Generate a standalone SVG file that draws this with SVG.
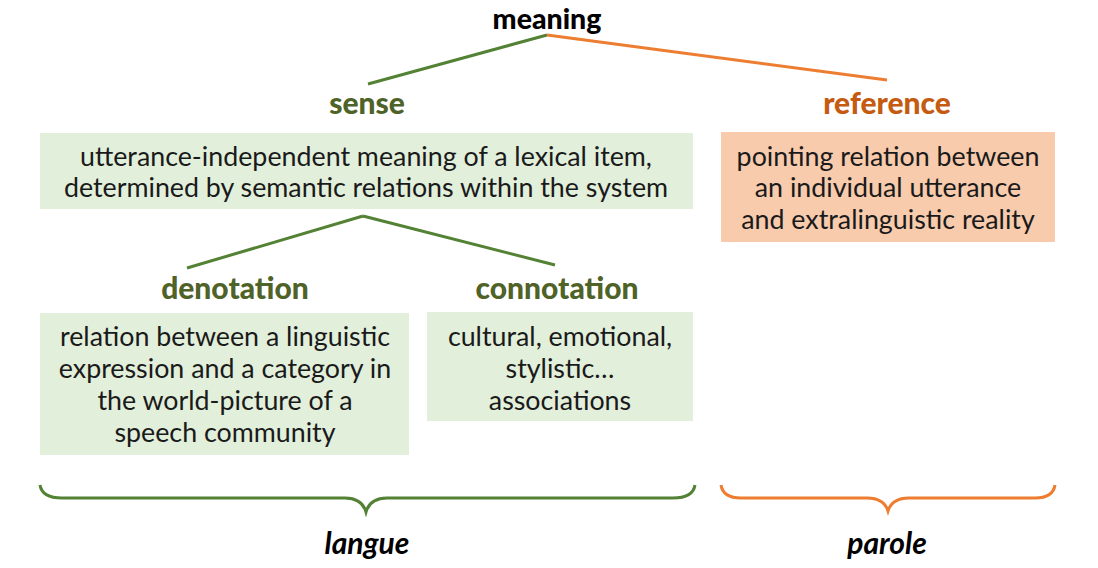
<svg xmlns="http://www.w3.org/2000/svg" width="1098" height="568" viewBox="0 0 1098 568">
<style>
.h{font-family:Lato,"Liberation Sans",sans-serif;font-weight:900;font-size:30px;text-anchor:middle}
.g{fill:#4f6228}
.o{fill:#c55a11}
.t{font-family:Lato,"Liberation Sans",sans-serif;font-size:26.8px;fill:#1a1a1a;text-anchor:middle}
.gl{stroke:#548235;stroke-width:3;fill:none}
.ol{stroke:#ed7d31;stroke-width:3;fill:none}
.i{font-family:Lato,"Liberation Sans",sans-serif;font-weight:bold;font-style:italic;font-size:30px;fill:#000;text-anchor:middle}
</style>
<rect width="1098" height="568" fill="#fff"/>
<g id="connectors">
<line class="gl" x1="547" y1="35" x2="368" y2="84"/>
<line class="ol" x1="547" y1="35" x2="887" y2="80"/>
<line class="gl" x1="363" y1="216" x2="187" y2="268"/>
<line class="gl" x1="363" y1="216" x2="555" y2="265"/>
</g>
<g id="meaning"><text class="h" x="547" y="28.5" fill="#000" style="font-size:28.5px">meaning</text></g>
<g id="sense">
<text class="h g" x="367" y="114">sense</text>
<rect x="40" y="133" width="653" height="76" fill="#e2efda"/>
<text class="t" x="366" y="166">utterance-independent meaning of a lexical item,</text>
<text class="t" x="366" y="197">determined by semantic relations within the system</text>
</g>
<g id="reference">
<text class="h o" x="887" y="114">reference</text>
<rect x="721" y="132" width="334" height="110" fill="#f8cbad"/>
<text class="t" x="888" y="166">pointing relation between</text>
<text class="t" x="888" y="197">an individual utterance</text>
<text class="t" x="888" y="229">and extralinguistic reality</text>
</g>
<g id="denotation">
<text class="h g" x="235" y="299">denotation</text>
<rect x="40" y="313" width="369" height="142" fill="#e2efda"/>
<text class="t" x="225" y="346">relation between a linguistic</text>
<text class="t" x="225" y="378">expression and a category in</text>
<text class="t" x="225" y="410">the world-picture of a</text>
<text class="t" x="225" y="442">speech community</text>
</g>
<g id="connotation">
<text class="h g" x="557" y="299">connotation</text>
<rect x="427" y="312" width="266" height="109" fill="#e2efda"/>
<text class="t" x="560" y="346">cultural, emotional,</text>
<text class="t" x="560" y="378">stylistic…</text>
<text class="t" x="560" y="410">associations</text>
</g>
<g id="langue">
<path class="gl" d="M40,485 Q42,498 62,498 L345,498 Q362,498 366,512 Q370,498 387,498 L673,498 Q693,498 695,485"/>
<text class="i" x="367" y="554">langue</text>
</g>
<g id="parole">
<path class="ol" d="M721,485 Q723,498 741,498 L867,498 Q884,498 888,511 Q892,498 909,498 L1035,498 Q1053,498 1055,485"/>
<text class="i" x="887" y="554">parole</text>
</g>
</svg>
